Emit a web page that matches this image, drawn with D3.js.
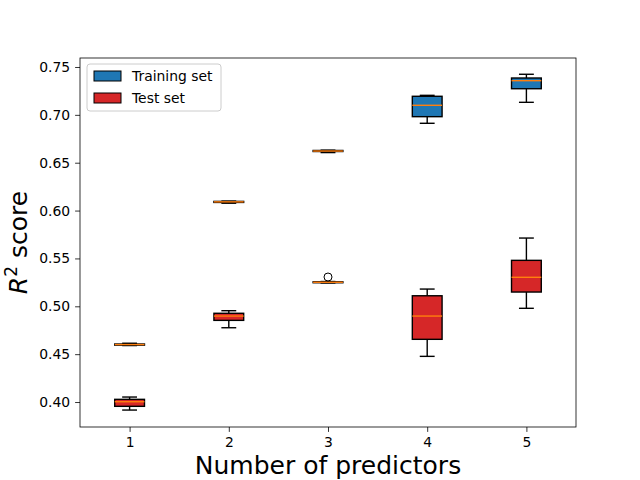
<!DOCTYPE html>
<html>
<head>
<meta charset="utf-8">
<script src="https://cdn.jsdelivr.net/npm/d3@7"></script>
<style>
  body { margin: 0; background: #fff; }
  svg { font-family: "DejaVu Sans", sans-serif; }
</style>
</head>
<body>
<div id="chart"></div>
<script>
// data: number of predictors and R^2 box stats (lo whisker, q1, median, q3, hi whisker)
var predictors = [1, 2, 3, 4, 5];
var trainStats = [
  [0.4590, 0.4594, 0.4600, 0.4606, 0.4614],
  [0.6077, 0.6085, 0.6091, 0.6096, 0.6099],
  [0.6606, 0.6617, 0.6622, 0.6628, 0.6631],
  [0.6912, 0.6981, 0.7100, 0.7194, 0.7204],
  [0.7131, 0.7273, 0.7357, 0.7385, 0.7424]
];
var testStats = [
  [0.3916, 0.3955, 0.4003, 0.4028, 0.4052],
  [0.4776, 0.4853, 0.4898, 0.4927, 0.4954],
  [0.5244, 0.5246, 0.5251, 0.5256, 0.5259],
  [0.4477, 0.4655, 0.4898, 0.5110, 0.5180],
  [0.4979, 0.5149, 0.5303, 0.5480, 0.5713]
];
var testOutliers = [[], [], [0.5306], [], []];
var yTicks = [0.40, 0.45, 0.50, 0.55, 0.60, 0.65, 0.70, 0.75];
var seriesNames = ['Training set', 'Test set'];
var seriesColors = ['#1f77b4', '#d62728'];

var width = 640, height = 480;
var margin = {left: 80, right: 64, top: 58, bottom: 53};
var boxWidth = 0.3;

var svg = d3.select('#chart').append('svg')
  .attr('width', width)
  .attr('height', height);

var x = d3.scaleLinear()
  .domain([0.5, 5.5])
  .range([margin.left, width - margin.right]);

var y = d3.scaleLinear()
  .domain([0.3739, 0.7594])
  .range([height - margin.bottom, margin.top]);

// axes
svg.append('g')
  .attr('transform', 'translate(0,' + (height - margin.bottom) + ')')
  .call(d3.axisBottom(x).tickValues(predictors).tickSize(4.9).tickPadding(4.9).tickFormat(d3.format('d')))
  .call(styleAxis);

svg.append('g')
  .attr('transform', 'translate(' + margin.left + ',0)')
  .call(d3.axisLeft(y).tickValues(yTicks).tickSize(4.9).tickPadding(4.9).tickFormat(d3.format('.2f')))
  .call(styleAxis);

function styleAxis(g) {
  g.select('.domain').remove();
  g.selectAll('.tick line').attr('stroke', '#000').attr('stroke-width', 0.8);
  g.selectAll('.tick text').attr('fill', '#000').style('font-size', '13.9px')
    .style('font-family', '"DejaVu Sans", sans-serif');
}

// boxes
function drawBoxes(stats, color, outliers) {
  var g = svg.append('g');
  stats.forEach(function (s, i) {
    var cx = x(predictors[i]);
    var hw = (x(boxWidth) - x(0)) / 2;
    var cw = hw / 2;
    // whiskers
    g.append('line').attr('x1', cx).attr('x2', cx).attr('y1', y(s[0])).attr('y2', y(s[1]))
      .attr('stroke', '#000').attr('stroke-width', 1.4);
    g.append('line').attr('x1', cx).attr('x2', cx).attr('y1', y(s[3])).attr('y2', y(s[4]))
      .attr('stroke', '#000').attr('stroke-width', 1.4);
    // caps
    [s[0], s[4]].forEach(function (v) {
      g.append('line').attr('x1', cx - cw).attr('x2', cx + cw).attr('y1', y(v)).attr('y2', y(v))
        .attr('stroke', '#000').attr('stroke-width', 1.4);
    });
    // box
    g.append('rect')
      .attr('x', cx - hw)
      .attr('y', y(s[3]))
      .attr('width', 2 * hw)
      .attr('height', Math.max(y(s[1]) - y(s[3]), 0.5))
      .attr('fill', color)
      .attr('stroke', '#000')
      .attr('stroke-width', 1.4);
    // median
    g.append('line').attr('x1', cx - hw).attr('x2', cx + hw).attr('y1', y(s[2])).attr('y2', y(s[2]))
      .attr('stroke', '#ff7f0e').attr('stroke-width', 1.4);
    // fliers
    (outliers ? outliers[i] : []).forEach(function (v) {
      g.append('circle').attr('cx', cx).attr('cy', y(v)).attr('r', 4)
        .attr('fill', 'none').attr('stroke', '#000').attr('stroke-width', 1);
    });
  });
}

drawBoxes(trainStats, seriesColors[0], null);
drawBoxes(testStats, seriesColors[1], testOutliers);

// frame
svg.append('rect')
  .attr('x', margin.left)
  .attr('y', margin.top)
  .attr('width', width - margin.left - margin.right)
  .attr('height', height - margin.top - margin.bottom)
  .attr('fill', 'none')
  .attr('stroke', '#000')
  .attr('stroke-width', 0.8);

// legend
var legend = svg.append('g').attr('transform', 'translate(87,64)');
legend.append('rect')
  .attr('width', 134)
  .attr('height', 47)
  .attr('rx', 3)
  .attr('fill', '#fff')
  .attr('fill-opacity', 0.8)
  .attr('stroke', '#cccccc')
  .attr('stroke-width', 1);

var item = legend.selectAll('g.item')
  .data(seriesNames)
  .enter().append('g')
    .attr('class', 'item')
    .attr('transform', function (d, i) { return 'translate(7,' + (7 + i * 22) + ')'; });

item.append('rect')
  .attr('width', 27)
  .attr('height', 10)
  .attr('fill', function (d, i) { return seriesColors[i]; })
  .attr('stroke', '#000')
  .attr('stroke-width', 1);

item.append('text')
  .attr('x', 38)
  .attr('y', 10)
  .style('font-size', '13.9px')
  .text(function (d) { return d; });

// axis labels
svg.append('text')
  .attr('x', (margin.left + width - margin.right) / 2)
  .attr('y', 474)
  .attr('text-anchor', 'middle')
  .style('font-size', '25px')
  .text('Number of predictors');

var ylab = svg.append('text')
  .attr('transform', 'translate(27,' + ((margin.top + height - margin.bottom) / 2) + ') rotate(-90)')
  .attr('text-anchor', 'middle')
  .style('font-size', '25px');
ylab.append('tspan').style('font-style', 'italic').text('R');
ylab.append('tspan').attr('dy', -10).style('font-size', '17px').text('2');
ylab.append('tspan').attr('dy', 10).text(' score');
</script>
</body>
</html>
